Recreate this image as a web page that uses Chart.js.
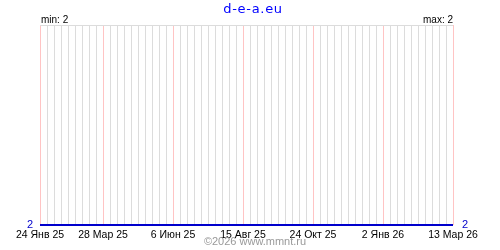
<!DOCTYPE html>
<html>
<head>
<meta charset="utf-8">
<script src="https://cdn.jsdelivr.net/npm/chart.js@4"></script>
<style>
  html, body { margin: 0; padding: 0; background: #fff; }
  #wrap { width: 500px; height: 250px; }
</style>
</head>
<body>
<div id="wrap"><canvas id="chartCanvas" width="500" height="250"></canvas></div>
<script>
// series data (every reading is 2)
const startDate = '2025-01-24';
const endDate = '2026-03-13';
const pointDates = ['2025-01-24', '2025-03-28', '2025-06-06', '2025-08-15', '2025-10-24', '2026-01-02', '2026-03-13'];
const pointValues = [2, 2, 2, 2, 2, 2, 2];

// tick labels on the date axis
const labelDates = ['2025-01-24', '2025-03-28', '2025-06-06', '2025-08-15', '2025-10-24', '2026-01-02', '2026-03-13'];
const labelTexts = ['24 Янв 25', '28 Мар 25', '6 Июн 25', '15 Авг 25', '24 Окт 25', '2 Янв 26', '13 Мар 26'];

const titleText = 'd-e-a.eu';
const minText = 'min: 2';
const maxText = 'max: 2';
const footerText = '©2026 www.mmnt.ru';

function dayNum(s) {
    const p = s.split('-').map(Number);
    return Math.round((Date.UTC(p[0], p[1] - 1, p[2]) - Date.UTC(2025, 0, 24)) / 86400000);
}

const xMax = dayNum(endDate);
const labelDays = labelDates.map(dayNum);
const points = pointDates.map((d, i) => ({ x: dayNum(d), y: pointValues[i] }));

function labelFor(v) {
    const i = labelDays.indexOf(Math.round(v));
    return i >= 0 ? labelTexts[i] : '';
}

// texts around the plot
const textPlugin = {
    id: 'texts',
    afterDraw(c) {
        const ctx = c.ctx;
        const a = c.chartArea;
        ctx.save();
        ctx.textBaseline = 'alphabetic';
        ctx.fillStyle = '#0000ff';
        ctx.font = '13px "DejaVu Sans"';
        ctx.letterSpacing = '0.7px';
        ctx.textAlign = 'center';
        ctx.fillText(titleText, 253, 13);
        ctx.letterSpacing = '0px';
        ctx.fillStyle = '#000';
        ctx.font = '10px "Liberation Sans"';
        ctx.textAlign = 'left';
        ctx.fillText(minText, a.left + 1, 23);
        ctx.textAlign = 'right';
        ctx.fillText(maxText, a.right, 23);
        ctx.fillStyle = '#999';
        ctx.font = '11px "Liberation Sans"';
        ctx.textAlign = 'center';
        ctx.fillText(footerText, 255, 245);
        ctx.restore();
    }
};

const ctx = document.getElementById('chartCanvas').getContext('2d');
const chart = new Chart(ctx, {
    type: 'line',
    data: {
        datasets: [{
            data: points,
            borderColor: '#0000cc',
            borderWidth: 2,
            pointRadius: 0,
            fill: false,
            tension: 0,
            clip: false
        }]
    },
    options: {
        responsive: false,
        animation: false,
        layout: { padding: { top: 25, left: 0, right: 0, bottom: 0 } },
        plugins: {
            legend: { display: false },
            tooltip: { enabled: false },
            title: { display: false }
        },
        scales: {
            x: {
                type: 'linear',
                min: 0,
                max: xMax,
                border: { display: false },
                grid: {
                    drawTicks: false,
                    color: c => labelDays.includes(Math.round(c.tick.value)) ? '#ffc4c4' : '#dcdcdc'
                },
                ticks: {
                    stepSize: 7,
                    autoSkip: false,
                    maxRotation: 0,
                    padding: 4,
                    color: '#000',
                    font: { family: 'Liberation Sans', size: 10.5 },
                    callback: v => labelFor(v)
                },
                afterFit: s => { s.height = 25; }
            },
            y: {
                position: 'left',
                min: 2,
                max: 3,
                border: { display: false },
                grid: {
                    drawTicks: false,
                    color: c => c.tick.value === 3 ? '#dcdcdc' : 'rgba(0,0,0,0)'
                },
                ticks: {
                    stepSize: 1,
                    padding: 7,
                    color: '#0000cc',
                    font: { family: 'Liberation Sans', size: 11 },
                    callback: v => v === 2 ? '2' : ''
                },
                afterFit: s => { s.width = 40; }
            },
            y2: {
                position: 'right',
                min: 2,
                max: 3,
                border: { display: false },
                grid: { display: false, drawTicks: false },
                ticks: {
                    stepSize: 1,
                    padding: 9,
                    color: '#0000cc',
                    font: { family: 'Liberation Sans', size: 11 },
                    callback: v => v === 2 ? '2' : ''
                },
                afterFit: s => { s.width = 47; }
            }
        }
    },
    plugins: [textPlugin]
});
</script>
</body>
</html>
